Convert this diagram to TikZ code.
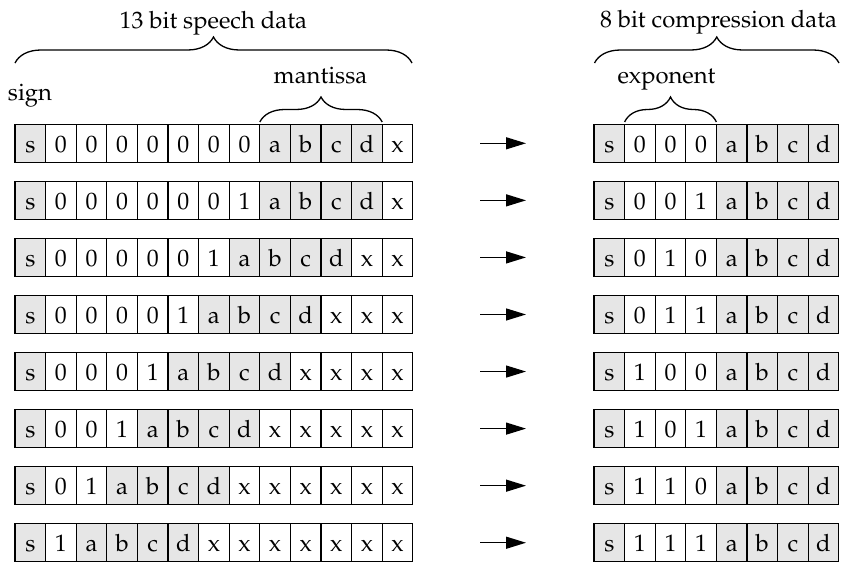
\documentclass[tikz,border=0pt]{standalone}
\usepackage[T1]{fontenc}
\usepackage{mathpazo}
\usetikzlibrary{arrows.meta,decorations.pathreplacing}
\definecolor{cellgray}{RGB}{230,230,230}
\begin{document}
\begin{tikzpicture}[x=1pt,y=-1pt,
  cell/.style={draw,line width=1.3pt,minimum width=30.6pt,minimum height=38pt,inner sep=0pt,
    text height=20pt,text depth=2pt,font=\fontsize{23.8}{28}\selectfont},
  cg/.style={fill=cellgray},
  cw/.style={fill=white},
  lbl/.style={anchor=base,inner sep=0pt,font=\fontsize{23.8}{28}\selectfont},
  brc/.style={decorate,line width=1.3pt,decoration={brace,amplitude=#1}},
  arr/.style={line width=1.3pt,-{Triangle[length=20pt,width=12pt]}}]
\useasboundingbox (0,0) rectangle (842,562);
% left 13-bit rows
\foreach \row [count=\i from 0] in {
 {cg/s,cw/0,cw/0,cw/0,cw/0,cw/0,cw/0,cw/0,cg/a,cg/b,cg/c,cg/d,cw/x},
 {cg/s,cw/0,cw/0,cw/0,cw/0,cw/0,cw/0,cw/1,cg/a,cg/b,cg/c,cg/d,cw/x},
 {cg/s,cw/0,cw/0,cw/0,cw/0,cw/0,cw/1,cg/a,cg/b,cg/c,cg/d,cw/x,cw/x},
 {cg/s,cw/0,cw/0,cw/0,cw/0,cw/1,cg/a,cg/b,cg/c,cg/d,cw/x,cw/x,cw/x},
 {cg/s,cw/0,cw/0,cw/0,cw/1,cg/a,cg/b,cg/c,cg/d,cw/x,cw/x,cw/x,cw/x},
 {cg/s,cw/0,cw/0,cw/1,cg/a,cg/b,cg/c,cg/d,cw/x,cw/x,cw/x,cw/x,cw/x},
 {cg/s,cw/0,cw/1,cg/a,cg/b,cg/c,cg/d,cw/x,cw/x,cw/x,cw/x,cw/x,cw/x},
 {cg/s,cw/1,cg/a,cg/b,cg/c,cg/d,cw/x,cw/x,cw/x,cw/x,cw/x,cw/x,cw/x}} {
  \foreach \f/\c [count=\j from 0] in \row {
    \node[cell,\f] (L-\i-\j) at ({15+30.6*\j+15.3},{143.3+57.06*\i}) {\c};
  }
}
% right 8-bit rows
\foreach \row [count=\i from 0] in {
 {cg/s,cw/0,cw/0,cw/0,cg/a,cg/b,cg/c,cg/d},
 {cg/s,cw/0,cw/0,cw/1,cg/a,cg/b,cg/c,cg/d},
 {cg/s,cw/0,cw/1,cw/0,cg/a,cg/b,cg/c,cg/d},
 {cg/s,cw/0,cw/1,cw/1,cg/a,cg/b,cg/c,cg/d},
 {cg/s,cw/1,cw/0,cw/0,cg/a,cg/b,cg/c,cg/d},
 {cg/s,cw/1,cw/0,cw/1,cg/a,cg/b,cg/c,cg/d},
 {cg/s,cw/1,cw/1,cw/0,cg/a,cg/b,cg/c,cg/d},
 {cg/s,cw/1,cw/1,cw/1,cg/a,cg/b,cg/c,cg/d}} {
  \foreach \f/\c [count=\j from 0] in \row {
    \node[cell,\f] (R-\i-\j) at ({594+30.6*\j+15.3},{143.3+57.06*\i}) {\c};
  }
}
% arrows
\foreach \i in {0,...,7} {
  \coordinate (aS-\i) at (480,{143.3+57.06*\i});
  \coordinate (aE-\i) at (526,{143.3+57.06*\i});
  \draw[arr] (aS-\i) -- (aE-\i);
}
% braces
\coordinate (b1a) at (15,63);   \coordinate (b1b) at (412,63);
\coordinate (b2a) at (594.5,63); \coordinate (b2b) at (839,63);
\coordinate (b3a) at (259.8,122); \coordinate (b3b) at (382.2,122);
\coordinate (b4a) at (624.6,122); \coordinate (b4b) at (716.4,122);
\draw[brc=26pt] (b1a) -- (b1b);
\draw[brc=26pt] (b2a) -- (b2b);
\draw[brc=25pt] (b3a) -- (b3b);
\draw[brc=25pt] (b4a) -- (b4b);
% labels
\node[lbl] (t1) at (213.3,28.3) {13 bit speech data};
\node[lbl] (t2) at (718.5,27) {8 bit compression data};
\node[lbl] (t3) at (320.5,83) {mantissa};
\node[lbl] (t4) at (666.5,83) {exponent};
\node[lbl] (t5) at (30,100) {sign};
\end{tikzpicture}
\end{document}
